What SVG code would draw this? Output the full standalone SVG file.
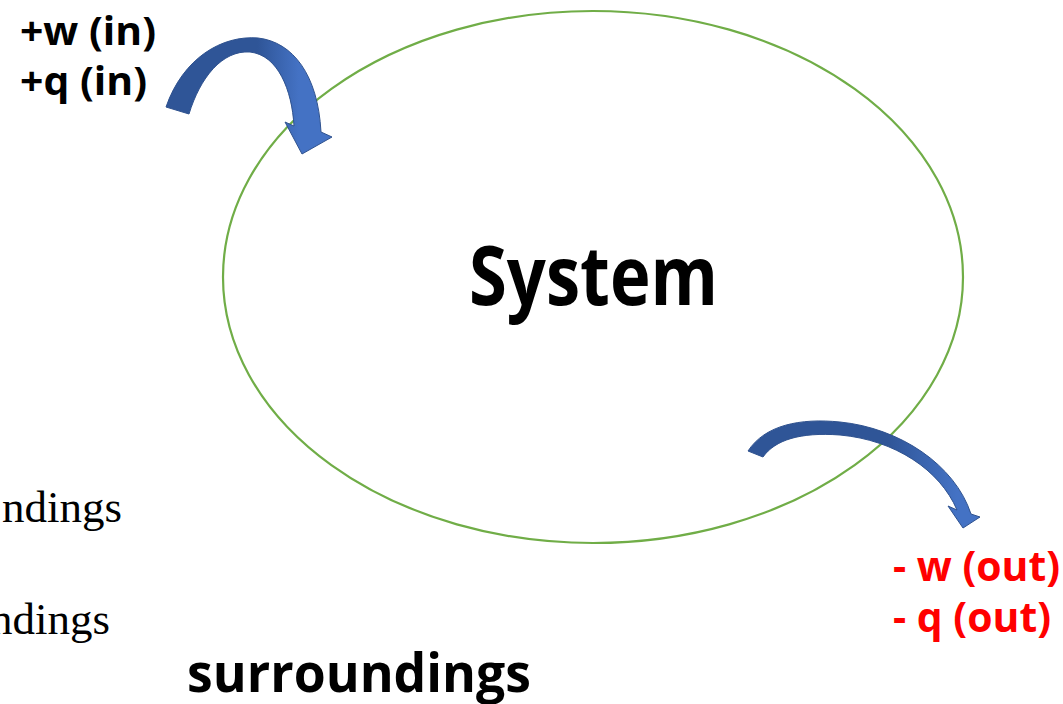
<svg xmlns="http://www.w3.org/2000/svg" width="1063" height="704" viewBox="0 0 1063 704">
<defs>
<style>
.b{font-family:"Open Sans","Liberation Sans",sans-serif;font-weight:bold;fill:#000}
.r{font-family:"Open Sans","Liberation Sans",sans-serif;font-weight:bold;fill:#FF0000}
.t{font-family:"Liberation Serif","Times New Roman",serif;fill:#000}
.arr{stroke:#2F528F;stroke-width:1;stroke-linejoin:round}
</style>
<linearGradient id="g1" x1="166" y1="0" x2="332" y2="0" gradientUnits="userSpaceOnUse">
<stop offset="0" stop-color="#2F5597"/><stop offset="0.55" stop-color="#2F5597"/><stop offset="0.8" stop-color="#4472C4"/><stop offset="1" stop-color="#4472C4"/>
</linearGradient>
<linearGradient id="g2" x1="748" y1="0" x2="980" y2="0" gradientUnits="userSpaceOnUse">
<stop offset="0" stop-color="#2F5597"/><stop offset="0.6" stop-color="#2F5597"/><stop offset="0.9" stop-color="#4472C4"/><stop offset="1" stop-color="#4472C4"/>
</linearGradient>
</defs>
<rect width="1063" height="704" fill="#fff"/>
<g id="system">
<ellipse cx="593" cy="277" rx="370" ry="266" fill="none" stroke="#70AD47" stroke-width="2.2"/>
<text class="b" x="469" y="305" font-size="82" textLength="249" lengthAdjust="spacingAndGlyphs">System</text>
</g>
<g id="in-label">
<text class="b" x="20" y="45" font-size="40" textLength="136" lengthAdjust="spacingAndGlyphs">+w (in)</text>
<text class="b" x="20" y="95" font-size="40" textLength="127" lengthAdjust="spacingAndGlyphs">+q (in)</text>
</g>
<g id="out-label">
<text class="r" x="893" y="581" font-size="42" textLength="167" lengthAdjust="spacingAndGlyphs">- w (out)</text>
<text class="r" x="893" y="632" font-size="42" textLength="158" lengthAdjust="spacingAndGlyphs">- q (out)</text>
</g>
<g id="surroundings">
<text class="b" x="187" y="692" font-size="54" textLength="344" lengthAdjust="spacingAndGlyphs">surroundings</text>
<text class="t" x="122" y="522" font-size="45" text-anchor="end">ndings</text>
<text class="t" x="110" y="634" font-size="45" text-anchor="end">ndings</text>
</g>
<g id="connectors">
<path class="arr" fill="url(#g1)" d="M166,107 C183,58 222,35 258,38 C293,42 318,75 321,132 L332,137 L302,154 L285,122 L294,126 C292,90 278,55 250,52 C222,50 200,78 189,114 Z"/>
<path class="arr" fill="url(#g2)" d="M748,451 C765,425 800,418 840,422 C900,428 955,465 971,514 L980,517 L963,528 L948,506 L957,510 C940,470 895,440 840,435 C800,432 775,440 763,457 Z"/>
</g>
</svg>
